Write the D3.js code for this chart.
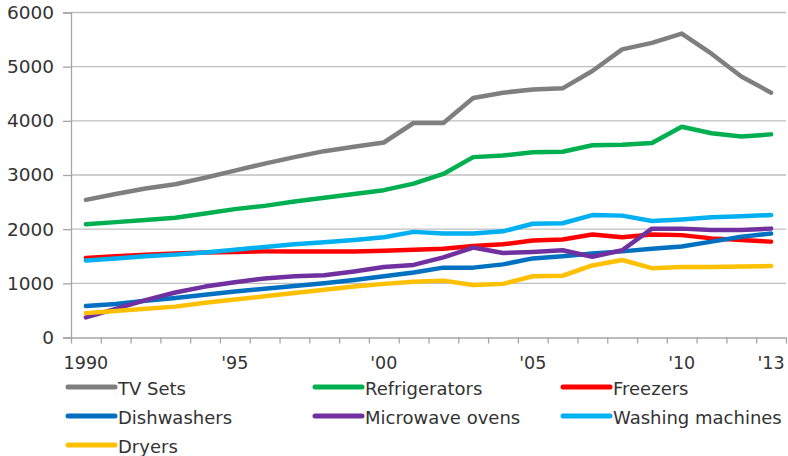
<!DOCTYPE html>
<html>
<head>
<meta charset="utf-8">
<script src="https://cdn.jsdelivr.net/npm/d3@7"></script>
<style>
  html, body { margin: 0; padding: 0; background: #fff; }
  svg { display: block; font-family: "DejaVu Sans", Verdana, sans-serif; }
</style>
</head>
<body>
<svg id="chart" width="788" height="456"></svg>
<script>
// Household appliances in use, 1990–2013
const years = d3.range(1990, 2014);
const yTicks = [0, 1000, 2000, 3000, 4000, 5000, 6000];
const xLabelYears = [1990, 1995, 2000, 2005, 2010, 2013];
const xLabels = ["1990", "'95", "'00", "'05", "'10", "'13"];

const tvSets =        [2540, 2650, 2750, 2830, 2950, 3080, 3210, 3330, 3440, 3520, 3600, 3960, 3960, 4420, 4520, 4580, 4600, 4920, 5320, 5440, 5610, 5240, 4820, 4520];
const refrigerators = [2090, 2130, 2170, 2210, 2290, 2370, 2430, 2510, 2580, 2650, 2720, 2840, 3020, 3330, 3360, 3420, 3430, 3550, 3560, 3590, 3890, 3770, 3710, 3750];
const freezers =      [1470, 1500, 1530, 1550, 1570, 1580, 1590, 1590, 1590, 1590, 1600, 1620, 1640, 1690, 1720, 1790, 1810, 1900, 1850, 1900, 1890, 1830, 1800, 1770];
const dishwashers =   [580, 620, 680, 730, 790, 850, 900, 950, 1000, 1060, 1130, 1200, 1290, 1290, 1350, 1460, 1500, 1550, 1590, 1640, 1680, 1770, 1860, 1920];
const microwaves =    [370, 530, 690, 830, 940, 1020, 1090, 1130, 1150, 1220, 1300, 1340, 1480, 1660, 1560, 1580, 1610, 1490, 1610, 2010, 2010, 1985, 1985, 2010];
const washing =       [1420, 1460, 1500, 1530, 1570, 1620, 1670, 1720, 1760, 1800, 1850, 1950, 1920, 1920, 1960, 2100, 2110, 2260, 2250, 2150, 2180, 2220, 2240, 2260];
const dryers =        [450, 490, 530, 570, 640, 700, 760, 820, 880, 940, 990, 1030, 1050, 970, 990, 1130, 1140, 1330, 1430, 1280, 1300, 1300, 1310, 1320];

const seriesNames = ["TV Sets", "Refrigerators", "Freezers", "Dishwashers", "Microwave ovens", "Washing machines", "Dryers"];
const seriesValues = [tvSets, refrigerators, freezers, dishwashers, microwaves, washing, dryers];
const seriesColors = ["#7f7f7f", "#00b050", "#ff0000", "#0070c0", "#7030a0", "#00b0f0", "#ffc000"];

const svg = d3.select("#chart");
const plotLeft = 71, plotRight = 786, plotTop = 12.5, plotBottom = 337.5;

const x = d3.scaleBand().domain(years).range([plotLeft, plotRight]).paddingInner(0).paddingOuter(0);
const xc = d => x(d) + x.bandwidth() / 2;
const xEdges = d3.scaleLinear().domain([0, years.length]).range([plotLeft, plotRight]);
const y = d3.scaleLinear().domain([0, 6000]).range([plotBottom, plotTop]);

const textColor = "#333333";
const gridColor = "#bfbfbf";
const axisColor = "#a6a6a6";

// horizontal gridlines
svg.append("g")
  .selectAll("line")
  .data(yTicks.filter(v => v > 0))
  .join("line")
  .attr("x1", plotLeft).attr("x2", plotRight)
  .attr("y1", d => y(d)).attr("y2", d => y(d))
  .attr("stroke", gridColor).attr("stroke-width", 1.3);

// y axis
const yAxis = svg.append("g")
  .attr("transform", `translate(${plotLeft},0)`)
  .call(d3.axisLeft(y).tickValues(yTicks).tickSize(8).tickPadding(9).tickFormat(d3.format("d")));
yAxis.select(".domain").attr("stroke", axisColor).attr("stroke-width", 1.3);
yAxis.selectAll(".tick line").attr("stroke", axisColor).attr("stroke-width", 1.3);
yAxis.selectAll(".tick text")
  .attr("fill", textColor).attr("font-size", 18.5).attr("font-family", "DejaVu Sans, Verdana, sans-serif");

// x axis: tick marks on category boundaries
const xAxis = svg.append("g")
  .attr("transform", `translate(0,${plotBottom})`)
  .call(d3.axisBottom(xEdges).tickValues(d3.range(years.length + 1)).tickSize(6).tickSizeOuter(0).tickFormat(""));
xAxis.select(".domain").attr("stroke", axisColor).attr("stroke-width", 1.3);
xAxis.selectAll(".tick line").attr("stroke", axisColor).attr("stroke-width", 1.3);

// x labels centred on categories
svg.append("g")
  .selectAll("text")
  .data(xLabelYears)
  .join("text")
  .attr("x", d => xc(d))
  .attr("y", 368.5)
  .attr("text-anchor", "middle")
  .attr("fill", textColor)
  .attr("font-size", 17.5)
  .text((d, i) => xLabels[i]);

// series lines
const line = d3.line()
  .x((d, i) => xc(years[i]))
  .y(d => y(d));

svg.append("g")
  .selectAll("path")
  .data(seriesValues)
  .join("path")
  .attr("d", d => line(d))
  .attr("fill", "none")
  .attr("stroke", (d, i) => seriesColors[i])
  .attr("stroke-width", 4.5)
  .attr("stroke-linejoin", "round")
  .attr("stroke-linecap", "round");

// legend, three columns
const legendCols = [68, 315, 563];
const legendRows = [387, 416, 445];
const legend = svg.append("g")
  .selectAll("g")
  .data(seriesNames)
  .join("g")
  .attr("transform", (d, i) => `translate(${legendCols[i % 3]},${legendRows[Math.floor(i / 3)]})`);
legend.append("line")
  .attr("x1", 0).attr("x2", 47)
  .attr("stroke", (d, i) => seriesColors[i])
  .attr("stroke-width", 5)
  .attr("stroke-linecap", "round");
legend.append("text")
  .attr("x", 50)
  .attr("y", 7.5)
  .attr("fill", textColor)
  .attr("font-size", 18)
  .text(d => d);
</script>
</body>
</html>
